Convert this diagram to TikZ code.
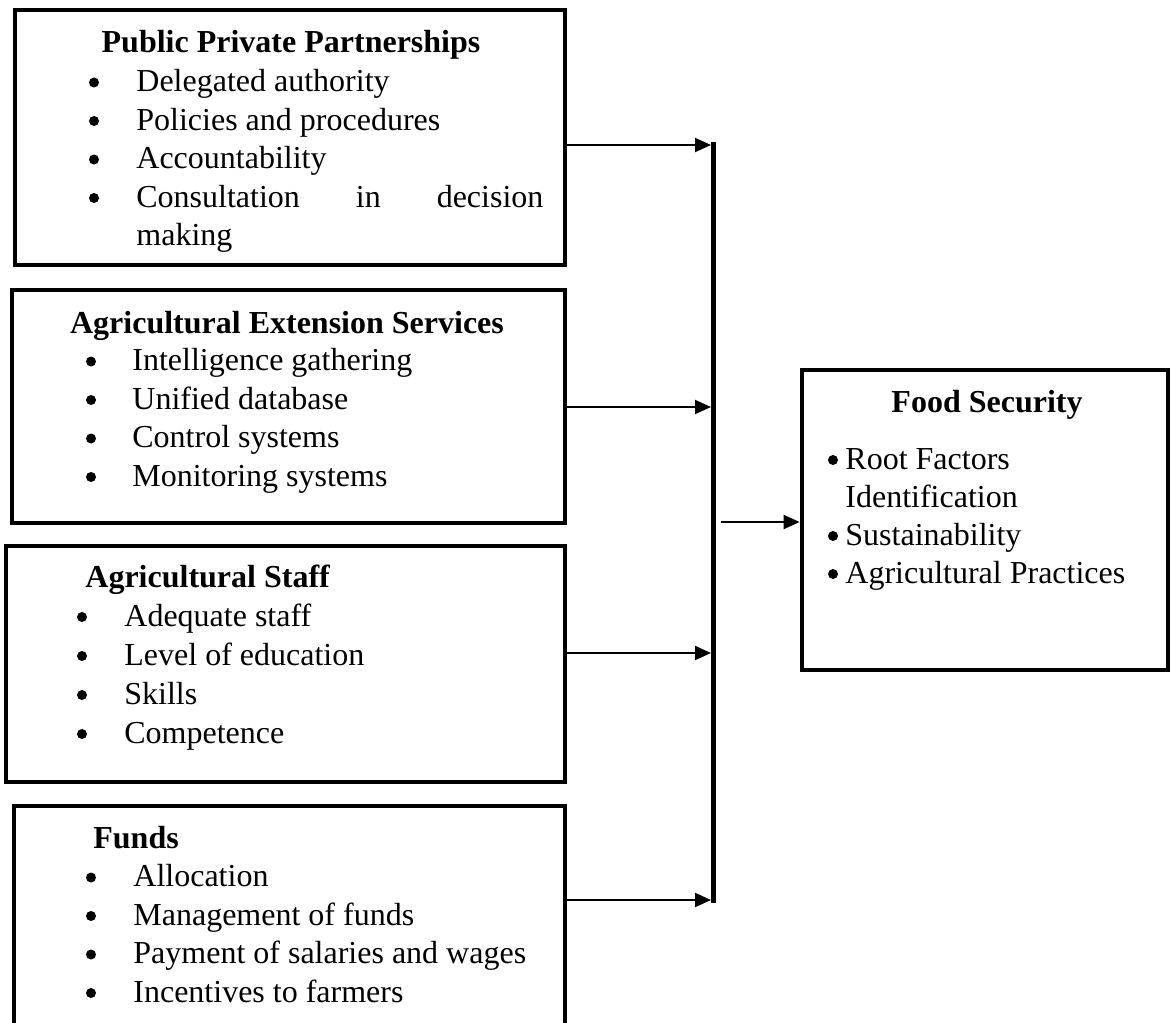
\documentclass[tikz,border=0pt]{standalone}
\usepackage{fontspec}
\setmainfont{Liberation Serif}
\usetikzlibrary{arrows.meta}
\newcommand\bodysize{\fontsize{16}{19}\selectfont}

\begin{document}
\begin{tikzpicture}[x=0.5pt,y=-0.5pt,font=\bodysize,
    box/.style={draw,line width=2.4pt,inner sep=0pt},
    head/.style={font=\bodysize\bfseries,anchor=base,inner sep=0pt},
    lhead/.style={head,anchor=base west},
    item/.style={anchor=base west,inner sep=0pt},
    dot/.style={circle,fill,inner sep=0pt,minimum size=5pt},
    feed/.style={line width=1pt,-{Triangle[length=8pt,width=7pt]}},
    bus/.style={line width=2.5pt}]
    \useasboundingbox (0,0) rectangle (1171,1022);
    \clip (0,0) rectangle (1171,1022);

    % boxes
    \node[box,minimum width=275pt,minimum height=127.5pt] (ppp) at (290,137.5) {};
    \node[box,minimum width=276.5pt,minimum height=116.5pt] (aes) at (288.5,406.5) {};
    \node[box,minimum width=279.5pt,minimum height=118pt] (staff) at (285.5,664) {};
    \node[box,minimum width=275.5pt,minimum height=117pt] (funds) at (289.5,923) {};
    \node[box,minimum width=183pt,minimum height=150pt] (food) at (985,520) {};

    % Public Private Partnerships
    \node[head] (ppp-h) at (291,53) {Public Private Partnerships};
    \foreach \t [count=\i] in {Delegated authority,Policies and procedures,Accountability} {
        \node[dot] (ppp-d\i) at (94,44+38.5*\i) {};
        \node[item] (ppp-i\i) at (136,53+38.5*\i) {\t};
    }
    \node[dot] (ppp-d4) at (94,198) {};
    \node[item] (ppp-i4) at (136,207) {\hbox to 203.5pt{Consultation\hfill in\hfill decision}};
    \node[item] (ppp-i5) at (136,245) {making};

    % Agricultural Extension Services
    \node[head] (aes-h) at (287,333) {Agricultural Extension Services};
    \foreach \t [count=\i] in {Intelligence gathering,Unified database,Control systems,Monitoring systems} {
        \node[dot] (aes-d\i) at (91,323+38.5*\i) {};
        \node[item] (aes-i\i) at (132,332+38.5*\i) {\t};
    }

    % Agricultural Staff
    \node[lhead] (staff-h) at (85,587) {Agricultural Staff};
    \foreach \t [count=\i] in {Adequate staff,Level of education,Skills,Competence} {
        \node[dot] (staff-d\i) at (82,578+39*\i) {};
        \node[item] (staff-i\i) at (124,587+39*\i) {\t};
    }

    % Funds
    \node[lhead] (funds-h) at (93,848) {Funds};
    \foreach \t [count=\i] in {Allocation,Management of funds,Payment of salaries and wages,Incentives to farmers} {
        \node[dot] (funds-d\i) at (91,839+38.5*\i) {};
        \node[item] (funds-i\i) at (133,848+38.5*\i) {\t};
    }

    % Food Security
    \node[head] (food-h) at (987,412) {Food Security};
    \node[dot] (food-d1) at (833,460) {};
    \node[item] (food-i1) at (845,469) {Root Factors};
    \node[item] (food-i1b) at (845,507) {Identification};
    \node[dot] (food-d2) at (833,536) {};
    \node[item] (food-i2) at (845,545) {Sustainability};
    \node[dot] (food-d3) at (833,574) {};
    \node[item] (food-i3) at (845,583) {Agricultural Practices};

    % connectors
    \coordinate (top) at (713,142);
    \coordinate (bot) at (713,903);
    \draw[bus] (top) -- (bot);
    \coordinate (j1) at (711,145);
    \coordinate (j2) at (711,407);
    \coordinate (j3) at (711,653);
    \coordinate (j4) at (711,900);
    \draw[feed] (ppp.east |- j1) -- (j1);
    \draw[feed] (aes.east |- j2) -- (j2);
    \draw[feed] (staff.east |- j3) -- (j3);
    \draw[feed] (funds.east |- j4) -- (j4);
    \coordinate (out) at (721,522);
    \draw[feed] (out) -- (food.west |- out);
\end{tikzpicture}
\end{document}
